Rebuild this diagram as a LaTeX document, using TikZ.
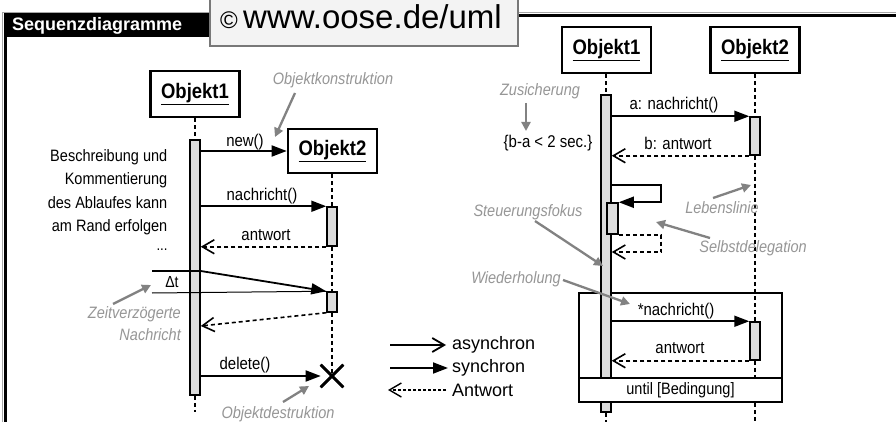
\documentclass[tikz,border=0pt]{standalone}
\usepackage{fontspec}
\setmainfont{Liberation Sans}
\newfontfamily\narrowsans{Liberation Sans}[FakeStretch=0.88]
\usetikzlibrary{arrows.meta,shapes.misc}
\newcommand\fsz[2]{\fontsize{#1}{#2}\selectfont}
\definecolor{annot}{RGB}{150,150,150}
\definecolor{annotarrow}{RGB}{130,130,130}
\definecolor{barfill}{RGB}{220,220,220}
\definecolor{copyfill}{RGB}{243,243,243}
\definecolor{copyborder}{RGB}{120,120,120}
\begin{document}
\begin{tikzpicture}[x=1pt,y=-1pt,
  objbox/.style={draw, line width=2.6pt, fill=white, minimum width=89pt, minimum height=46pt, inner sep=0pt, font=\narrowsans\fsz{21}{23}\bfseries},
  actbar/.style={draw, line width=1.5pt, fill=barfill, minimum width=10pt, inner sep=0pt},
  lifeline/.style={line width=1.7pt, dash pattern=on 4pt off 3pt},
  syncmsg/.style={line width=1.8pt, -{Triangle[length=15pt,width=11pt]}},
  asyncmsg/.style={line width=1.8pt, -{Straight Barb[length=12pt,width=14pt,line width=1.8pt]}},
  replymsg/.style={line width=1.6pt, dash pattern=on 4pt off 3pt, -{Straight Barb[length=12pt,width=14pt,line width=1.6pt]}},
  lbl/.style={inner sep=0pt, font=\narrowsans\fsz{17}{20}},
  note/.style={inner sep=0pt, text=annot, font=\narrowsans\fsz{16.5}{20}\itshape},
  notearrow/.style={draw=annotarrow, line width=2.3pt, -{Triangle[length=9pt,width=9pt]}},
  legtxt/.style={inner sep=0pt, anchor=west, font=\fsz{18}{20}}
]
\useasboundingbox (0,0) rectangle (896,422);
\clip (0,0) rectangle (896,422);
\fill[white] (0,0) rectangle (896,422);

% frame
\draw[line width=1pt, gray!70] (2.5,430) -- (2.5,12.5) -- (900,12.5);
\draw[line width=3pt] (5.5,430) -- (5.5,16) -- (900,16);
\fill[black] (4,13) rectangle (212,37);
\node[anchor=west, inner sep=0pt, text=white, font=\fsz{18}{20}\bfseries] (title) at (12,26) {Sequenzdiagramme};

% copyright box
\draw[draw=copyborder, fill=copyfill, line width=1.5pt] (210,-5) rectangle (518,46);
\node[anchor=base west, inner sep=0pt, font=\fsz{24}{26}] (copysym) at (220,29) {©};
\node[anchor=base west, inner sep=0pt, font=\fsz{33}{35}] (copyurl) at (243,29) {www.oose.de/uml};

% ================= LEFT DIAGRAM =================
\node[objbox] (L1) at (195,94) {\underline{Objekt1}};
\node[objbox, minimum height=44pt] (L2) at (332.5,151) {\underline{Objekt2}};
\node[actbar, minimum height=255pt] (LA) at (195,267.5) {};
\node[actbar, minimum height=39pt] (LB1) at (332,226.5) {};
\node[actbar, minimum height=20pt] (LB2) at (332,302) {};
\node[cross out, draw, line width=2.6pt, minimum size=20pt, inner sep=0pt] (LX) at (332,376) {};

\coordinate (LAend) at (195,412);
\draw[lifeline] (L1.south) -- (LA.north);
\draw[lifeline] (LA.south) -- (LAend);
\draw[lifeline] (L2.south -| LB1.north) -- (LB1.north);
\draw[lifeline] (LB1.south) -- (LB2.north);
\draw[lifeline] (LB2.south) -- (LX.center);
\node[cross out, draw, line width=2.6pt, minimum size=20pt, inner sep=0pt] at (LX.center) {};

\draw[syncmsg] (LA.east |- L2.west) -- (L2.west);
\node[lbl] (mnew) at (245,142) {new()};
\draw[syncmsg] (LA.east |- LB1.north) -- (LB1.north west);
\node[lbl] (mn1) at (262,196) {nachricht()};
\draw[replymsg] (LB1.south west) -- (LA.east |- LB1.south);
\node[lbl] (ma1) at (266,235) {antwort};

% delayed message
\coordinate (dt1) at (152,271);
\coordinate (dt2) at (152,293);
\coordinate (dtr) at (200,326);
\draw[line width=1.2pt] (dt1) -- (LA.east |- dt1);
\draw[line width=1pt] (dt2) -- (LB2.north west);
\draw[syncmsg] (LA.east |- dt1) -- (LB2.north west);
\draw[replymsg] (LB2.south west) -- (LA.east |- dtr);
\node[lbl, font=\narrowsans\fsz{16}{18}] (dtl) at (172,282) {Δt};

\draw[syncmsg] (LA.east |- LX.center) -- (LX.west);
\node[lbl] (mdel) at (245,365) {delete()};

% left description
\node[anchor=east, align=right, inner sep=0pt, font=\narrowsans\fsz{16.5}{23.5}] (desc) at (167.5,192) {Beschreibung und\\Kommentierung\\des Ablaufes kann\\am Rand erfolgen};
\node[lbl, font=\narrowsans\fsz{15}{16}] (dots) at (162,250) {...};

% left annotations
\node[note] (nkon) at (333,80) {Objektkonstruktion};
\coordinate (nkonA) at (295,93);
\coordinate (nkonB) at (275,137);
\draw[notearrow] (nkonA) -- (nkonB);

\node[note, anchor=east, align=right, font=\narrowsans\fsz{16.5}{22}\itshape] (nzeit) at (181,324) {Zeitverzögerte\\Nachricht};
\coordinate (nzeitA) at (113,304);
\coordinate (nzeitB) at (151,285);
\draw[notearrow] (nzeitA) -- (nzeitB);

\node[note] (ndes) at (278,414) {Objektdestruktion};
\coordinate (ndesA) at (283,402);
\coordinate (ndesB) at (309,386);
\draw[notearrow] (ndesA) -- (ndesB);

% legend
\node[legtxt] (tasync) at (452,345) {asynchron};
\node[legtxt] (tsync) at (452,368) {synchron};
\node[legtxt] (trep) at (452,390) {Antwort};
\coordinate (leg1) at (390,345);
\coordinate (leg2) at (390,368);
\coordinate (leg3) at (446,390);
\coordinate (leg3e) at (388,390);
\draw[asyncmsg] (leg1) -- (tasync.west -| 446,0);
\draw[syncmsg] (leg2) -- (tsync.west -| 448,0);
\draw[line width=1.2pt, dash pattern=on 3pt off 2pt, -{Straight Barb[length=12pt,width=14pt,line width=1.4pt]}] (leg3) -- (leg3e);

% ================= RIGHT DIAGRAM =================
\node[objbox] (R1) at (606.5,50) {\underline{Objekt1}};
\node[objbox] (R2) at (755,50) {\underline{Objekt2}};

% loop frame
\draw[line width=2.2pt] (579,293) rectangle (782,402);

\node[actbar, minimum height=317pt] (RA) at (606,253.5) {};
\node[actbar, minimum height=38pt] (RB1) at (755,136) {};
\node[actbar, minimum height=38pt] (RB2) at (755,341) {};
\node[actbar, minimum width=11pt, minimum height=31pt] (RS) at (612.5,218.5) {};

\coordinate (RAend) at (606,425);
\coordinate (RBend) at (755,425);
\draw[lifeline] (R1.south -| RA.north) -- (RA.north);
\draw[lifeline] (RA.south) -- (RAend);
\draw[lifeline] (R2.south -| RB1.north) -- (RB1.north);
\draw[lifeline] (RB1.south) -- (RB2.north);
\draw[lifeline] (RB2.south) -- (RBend);

\draw[syncmsg] (RA.east |- RB1.north) -- (RB1.north west);
\node[lbl] (rm1) at (674,105) {a: nachricht()};
\draw[replymsg] (RB1.south west) -- (RA.east |- RB1.south);
\node[lbl] (rm2) at (678,143) {b: antwort};

% self delegation
\coordinate (s1) at (661,185);
\coordinate (s2) at (661,252);
\draw[syncmsg] (RA.east |- s1) -- (s1) |- (RS.north east);
\draw[replymsg] (RS.south east) -| (s2) -- (RA.east |- s2);

% loop messages
\draw[syncmsg] (RA.east |- RB2.north) -- (RB2.north west);
\node[lbl] (rm3) at (676,311) {*nachricht()};
\draw[replymsg] (RB2.south west) -- (RA.east |- RB2.south);
\node[lbl] (rm4) at (680,348) {antwort};

% until compartment
\node[draw, line width=2.2pt, fill=white, minimum width=203pt, minimum height=24pt, inner sep=0pt, font=\narrowsans\fsz{16.5}{18}] (until) at (680.5,390) {until [Bedingung]};

% right annotations
\node[note] (nzus) at (540,91) {Zusicherung};
\coordinate (nzusA) at (526,103);
\coordinate (nzusB) at (526,131);
\draw[notearrow] (nzusA) -- (nzusB);
\node[lbl] (cons) at (548,143) {\{b-a < 2 sec.\}};

\node[note] (nleb) at (722,208) {Lebenslinie};
\coordinate (nlebA) at (713,198);
\coordinate (nlebB) at (751,185);
\draw[notearrow] (nlebA) -- (nlebB);

\node[note] (nsel) at (753,248) {Selbstdelegation};
\coordinate (nselA) at (710,238);
\coordinate (nselB) at (656,222);
\draw[notearrow] (nselA) -- (nselB);

\node[note] (nste) at (528,212) {Steuerungsfokus};
\coordinate (nsteA) at (535,221);
\coordinate (nsteB) at (603,266);
\draw[notearrow] (nsteA) -- (nsteB);

\node[note] (nwie) at (516,279) {Wiederholung};
\coordinate (nwieA) at (563,280);
\coordinate (nwieB) at (630,304);
\draw[notearrow] (nwieA) -- (nwieB);
\end{tikzpicture}
\end{document}
